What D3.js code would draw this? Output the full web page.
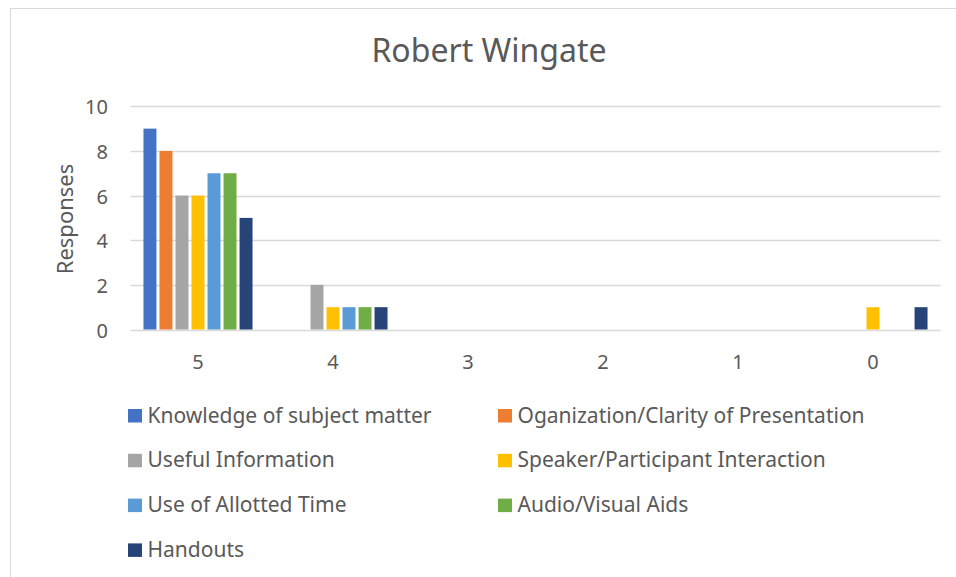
<!DOCTYPE html>
<html>
<head>
<meta charset="utf-8">
<script src="https://cdn.jsdelivr.net/npm/d3@7"></script>
<style>
  body { margin: 0; background: #fff; }
  svg { display: block; font-family: "Noto Sans", "Open Sans", sans-serif; }
</style>
</head>
<body>
<svg id="chart" width="956" height="577"></svg>
<script>
var categories = ["5", "4", "3", "2", "1", "0"];
var seriesNames = [
  "Knowledge of subject matter",
  "Oganization/Clarity of Presentation",
  "Useful Information",
  "Speaker/Participant Interaction",
  "Use of Allotted Time",
  "Audio/Visual Aids",
  "Handouts"
];
var seriesColors = ["#4472C4", "#ED7D31", "#A5A5A5", "#FFC000", "#5B9BD5", "#70AD47", "#264478"];
// one value per category (5,4,3,2,1,0)
var knowledge    = [9, 0, 0, 0, 0, 0];
var organization = [8, 0, 0, 0, 0, 0];
var useful       = [6, 2, 0, 0, 0, 0];
var interaction  = [6, 1, 0, 0, 0, 1];
var allotted     = [7, 1, 0, 0, 0, 0];
var audioVisual  = [7, 1, 0, 0, 0, 0];
var handouts     = [5, 1, 0, 0, 0, 1];
var yTicks = [0, 2, 4, 6, 8, 10];

var seriesValues = [knowledge, organization, useful, interaction, allotted, audioVisual, handouts];

var svg = d3.select("#chart");
var textColor = "#595959";
var font = "'Noto Sans', 'Open Sans', sans-serif";

// chart frame (only left and top edges fall inside the picture)
svg.append("rect")
    .attr("x", 10.5).attr("y", 8.5)
    .attr("width", 1000).attr("height", 1000)
    .attr("fill", "none")
    .attr("stroke", "#d9d9d9");

var plot = { left: 130.5, right: 940.5, top: 106.3, bottom: 329.5 };

var x = d3.scaleBand()
    .domain(categories)
    .range([plot.left, plot.right]);

var xInner = d3.scaleBand()
    .domain(d3.range(seriesNames.length))
    .range([0, x.bandwidth()])
    .paddingInner(0.19)
    .paddingOuter(0.81);

var y = d3.scaleLinear()
    .domain([0, 10])
    .range([plot.bottom, plot.top]);

// gridlines
svg.append("g")
    .selectAll("line")
    .data(yTicks)
    .join("line")
    .attr("x1", plot.left).attr("x2", plot.right)
    .attr("y1", function (d) { return Math.round(y(d)) + 0.5; })
    .attr("y2", function (d) { return Math.round(y(d)) + 0.5; })
    .attr("stroke", "#d9d9d9")
    .attr("stroke-width", 1.5);

// y axis labels
var yAxis = d3.axisLeft(y).tickValues(yTicks).tickSize(0).tickPadding(0);
svg.append("g")
    .attr("transform", "translate(108,0)")
    .call(yAxis)
    .call(function (g) { g.select(".domain").remove(); })
    .selectAll("text")
    .attr("dy", "0.38em")
    .attr("fill", textColor)
    .attr("font-size", 20)
    .attr("font-family", font);

// x axis labels
var xAxis = d3.axisBottom(x).tickSize(0).tickPadding(0);
svg.append("g")
    .attr("transform", "translate(0,355)")
    .call(xAxis)
    .call(function (g) { g.select(".domain").remove(); })
    .selectAll("text")
    .attr("fill", textColor)
    .attr("font-size", 20)
    .attr("font-family", font);

// bars
var groups = svg.append("g")
    .selectAll("g")
    .data(categories)
    .join("g")
    .attr("transform", function (d) { return "translate(" + x(d) + ",0)"; });

groups.selectAll("rect")
    .data(function (c, ci) {
      return seriesValues.map(function (vals, si) { return { s: si, v: vals[ci] }; });
    })
    .join("rect")
    .filter(function (d) { return d.v > 0; })
    .attr("x", function (d) { return xInner(d.s); })
    .attr("width", xInner.bandwidth())
    .attr("y", function (d) { return y(d.v); })
    .attr("height", function (d) { return y(0) - y(d.v); })
    .attr("fill", function (d) { return seriesColors[d.s]; });

// title
svg.append("text")
    .attr("x", 489).attr("y", 62)
    .attr("text-anchor", "middle")
    .attr("fill", textColor)
    .attr("font-size", 32)
    .text("Robert Wingate");

// y axis title
svg.append("text")
    .attr("transform", "translate(73,219) rotate(-90)")
    .attr("text-anchor", "middle")
    .attr("fill", textColor)
    .attr("font-size", 22)
    .text("Responses");

// legend, two columns
var legend = svg.append("g")
    .selectAll("g")
    .data(seriesNames)
    .join("g")
    .attr("transform", function (d, i) {
      var col = i % 2, row = Math.floor(i / 2);
      return "translate(" + (col ? 498 : 128) + "," + (409 + row * 44.8) + ")";
    });

legend.append("rect")
    .attr("x", 0).attr("y", 0)
    .attr("width", 14).attr("height", 13.5)
    .attr("fill", function (d, i) { return seriesColors[i]; });

legend.append("text")
    .attr("x", 19.5).attr("y", 13.5)
    .attr("fill", textColor)
    .attr("font-size", 21)
    .text(function (d) { return d; });
</script>
</body>
</html>
